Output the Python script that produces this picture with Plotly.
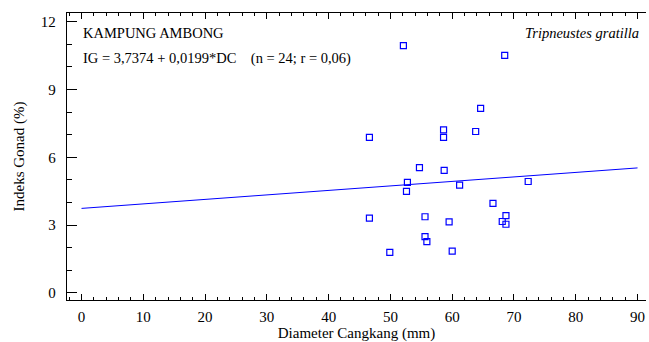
import plotly.graph_objects as go

# Data
diameter_mm = [52.1, 68.5, 64.6, 58.6, 58.6, 46.6, 63.8, 54.7, 58.7, 52.75,
               52.6, 61.2, 72.3, 66.6, 46.6, 55.6, 59.5, 68.7, 68.1, 68.7,
               55.6, 55.9, 49.9, 60.0]
gonad_index = [10.94, 10.51, 8.16, 7.21, 6.88, 6.88, 7.14, 5.54, 5.42, 4.89,
               4.49, 4.77, 4.93, 3.96, 3.31, 3.37, 3.14, 3.42, 3.16, 3.04,
               2.49, 2.27, 1.80, 1.85]
fit_x = [0, 90]
fit_y = [3.74, 5.53]

x_ticks = [0, 10, 20, 30, 40, 50, 60, 70, 80, 90]
y_ticks = [0, 3, 6, 9, 12]

FONT = "Times New Roman, Liberation Serif, serif"
BLUE = "#0000FF"

fig = go.Figure()
fig.add_trace(go.Scatter(x=fit_x, y=fit_y, mode="lines",
                         line=dict(color=BLUE, width=1), showlegend=False,
                         hoverinfo="skip"))
fig.add_trace(go.Scatter(x=diameter_mm, y=gonad_index, mode="markers",
                         marker=dict(symbol="square-open", size=6, color=BLUE,
                                     line=dict(width=1.2, color=BLUE)),
                         showlegend=False))

fig.update_layout(
    width=649, height=342,
    margin=dict(l=67, r=3, t=13, b=42),
    paper_bgcolor="white", plot_bgcolor="white",
    font=dict(family=FONT, size=15, color="black"),
    xaxis=dict(range=[-2.35, 91.37], tickvals=x_ticks, ticks="inside",
               ticklen=6, tickwidth=1, tickcolor="black",
               showline=True, linecolor="black", linewidth=1.3,
               mirror="ticks", showgrid=False, zeroline=False,
               ticklabelstandoff=3, tickfont=dict(size=15),
               minor=dict(dtick=2, ticks="inside", ticklen=3,
                          tickcolor="black", showgrid=False),
               title=dict(text="Diameter Cangkang (mm)", standoff=2,
                          font=dict(size=15))),
    yaxis=dict(range=[-0.31, 12.38], tickvals=y_ticks, ticks="inside",
               ticklen=10, tickwidth=1, tickcolor="black",
               showline=True, linecolor="black", linewidth=1.3,
               mirror=False, showgrid=False, zeroline=False,
               ticklabelstandoff=7, tickfont=dict(size=15),
               minor=dict(dtick=1, ticks="inside", ticklen=5,
                          tickcolor="black", showgrid=False),
               title=dict(text="Indeks Gonad (%)", standoff=12,
                          font=dict(size=15))),
    annotations=[
        dict(text="KAMPUNG AMBONG", xref="paper", yref="paper",
             x=0.025, y=0.93, xanchor="left", yanchor="middle",
             showarrow=False, font=dict(size=14.5)),
        dict(text="IG = 3,7374 + 0,0199*DC&nbsp;&nbsp;&nbsp;&nbsp;(n = 24; r = 0,06)",
             xref="paper", yref="paper", x=0.025, y=0.843,
             xanchor="left", yanchor="middle", showarrow=False,
             font=dict(size=14.5)),
        dict(text="<i>Tripneustes gratilla</i>", xref="paper", yref="paper",
             x=0.992, y=0.93, xanchor="right", yanchor="middle",
             showarrow=False, font=dict(size=14.5)),
    ],
)

fig.write_html("out.html")
